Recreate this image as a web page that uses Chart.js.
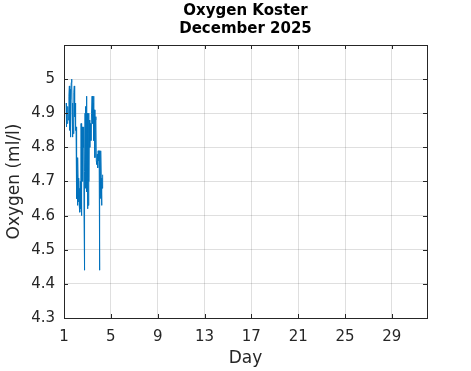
<!DOCTYPE html>
<html>
<head>
<meta charset="utf-8">
<script src="https://cdn.jsdelivr.net/npm/chart.js@4/dist/chart.umd.min.js"></script>
<style>
  body { margin: 0; background: #fff; }
  canvas { display: block; }
</style>
</head>
<body>
<canvas id="oxygenChart" width="471" height="371"></canvas>
<script>
// day of month (fractional) and oxygen reading
const days = [
    1.18, 1.20, 1.23, 1.27, 1.32, 1.37, 1.42, 1.46, 1.49, 1.52,
    1.55, 1.58, 1.62, 1.66, 1.69, 1.72, 1.76, 1.80, 1.84, 1.88,
    1.91, 1.95, 1.99, 2.03, 2.06, 2.09, 2.12, 2.15, 2.18, 2.21,
    2.24, 2.27, 2.30, 2.33, 2.36, 2.40, 2.43, 2.46, 2.49, 2.52,
    2.55, 2.58, 2.61, 2.64, 2.68, 2.71, 2.74, 2.77, 2.80, 2.83,
    2.86, 2.89, 2.92, 2.95, 2.98, 3.01, 3.04, 3.07, 3.10, 3.13,
    3.16, 3.20, 3.25, 3.30, 3.35, 3.40, 3.44, 3.48, 3.52, 3.56,
    3.60, 3.64, 3.68, 3.72, 3.76, 3.80, 3.84, 3.88, 3.92, 3.96,
    4.00, 4.03, 4.06, 4.09, 4.12, 4.15, 4.18, 4.21, 4.24, 4.27,
    4.30
];
const oxygen = [
    4.93, 4.86, 4.90, 4.87, 4.92, 4.88, 4.95, 4.98, 4.85, 4.97,
    4.83, 4.94, 4.99, 5.00, 4.90, 4.83, 4.93, 4.84, 4.96, 4.98,
    4.89, 4.93, 4.85, 4.86, 4.76, 4.65, 4.72, 4.63, 4.77, 4.69,
    4.64, 4.71, 4.63, 4.68, 4.61, 4.70, 4.62, 4.87, 4.60, 4.75,
    4.86, 4.70, 4.86, 4.80, 4.86, 4.60, 4.44, 4.73, 4.90, 4.68,
    4.92, 4.72, 4.95, 4.67, 4.90, 4.62, 4.84, 4.63, 4.90, 4.70,
    4.88, 4.80, 4.87, 4.82, 4.90, 4.95, 4.87, 4.93, 4.95, 4.82,
    4.91, 4.77, 4.88, 4.89, 4.76, 4.75, 4.78, 4.74, 4.79, 4.76,
    4.79, 4.44, 4.78, 4.74, 4.65, 4.79, 4.71, 4.63, 4.70, 4.68,
    4.72
];
const dayTicks = [1, 5, 9, 13, 17, 21, 25, 29];
const oxygenTicks = [4.3, 4.4, 4.5, 4.6, 4.7, 4.8, 4.9, 5.0];

const axisColor = '#262626';
const gridColor = 'rgba(38, 38, 38, 0.15)';
const fontFamily = "'DejaVu Sans', sans-serif";

// MATLAB-like box with inward tick marks
const boxPlugin = {
    id: 'box',
    afterDraw(chart) {
        const { ctx, chartArea: { left, right, top, bottom }, scales: { x, y } } = chart;
        ctx.save();
        ctx.strokeStyle = axisColor;
        ctx.lineWidth = 1;
        ctx.beginPath();
        x.ticks.forEach(t => {
            const px = Math.round(x.getPixelForValue(t.value)) + 0.5;
            ctx.moveTo(px, bottom); ctx.lineTo(px, bottom - 4);
            ctx.moveTo(px, top); ctx.lineTo(px, top + 4);
        });
        y.ticks.forEach(t => {
            const py = Math.round(y.getPixelForValue(t.value)) + 0.5;
            ctx.moveTo(left, py); ctx.lineTo(left + 4, py);
            ctx.moveTo(right, py); ctx.lineTo(right - 4, py);
        });
        ctx.stroke();
        ctx.strokeRect(Math.round(left) + 0.5, Math.round(top) + 0.5,
            Math.round(right - left), Math.round(bottom - top));
        ctx.restore();
    }
};

const ctx = document.getElementById('oxygenChart').getContext('2d');
const oxygenChart = new Chart(ctx, {
    type: 'line',
    data: {
        datasets: [{
            label: 'Oxygen',
            data: days.map((d, i) => ({ x: d, y: oxygen[i] })),
            borderColor: '#0072BD',
            borderWidth: 1,
            pointRadius: 0,
            tension: 0,
            fill: false
        }]
    },
    options: {
        responsive: false,
        animation: false,
        layout: { padding: { left: 0, right: 44, top: 0, bottom: 0 } },
        plugins: {
            legend: { display: false },
            tooltip: { enabled: false },
            title: {
                display: true,
                fullSize: false,
                text: ['Oxygen Koster', 'December 2025'],
                color: '#000',
                font: { family: fontFamily, size: 15, weight: 'bold', lineHeight: 1.2 },
                padding: { top: 2, bottom: 7 }
            }
        },
        scales: {
            x: {
                type: 'linear',
                min: 1,
                max: 32,
                afterBuildTicks: scale => { scale.ticks = dayTicks.map(v => ({ value: v })); },
                afterFit: scale => { scale.height = 53; },
                grid: { color: gridColor, drawTicks: false },
                border: { display: false },
                ticks: {
                    color: axisColor,
                    padding: 10,
                    maxRotation: 0,
                    font: { family: fontFamily, size: 15 }
                },
                title: {
                    display: true,
                    text: 'Day',
                    color: axisColor,
                    font: { family: fontFamily, size: 17 },
                    padding: { top: 0, bottom: 2 }
                }
            },
            y: {
                min: 4.3,
                max: 5.1,
                afterBuildTicks: scale => { scale.ticks = oxygenTicks.map(v => ({ value: v })); },
                afterFit: scale => { scale.width = 64; },
                grid: { color: gridColor, drawTicks: false },
                border: { display: false },
                ticks: {
                    color: axisColor,
                    padding: 9,
                    font: { family: fontFamily, size: 15 },
                    callback: v => (v === 5 ? '5' : v.toFixed(1))
                },
                title: {
                    display: true,
                    text: 'Oxygen (ml/l)',
                    color: axisColor,
                    font: { family: fontFamily, size: 17 },
                    padding: { top: 4, bottom: 0 }
                }
            }
        }
    },
    plugins: [boxPlugin]
});
</script>
</body>
</html>
